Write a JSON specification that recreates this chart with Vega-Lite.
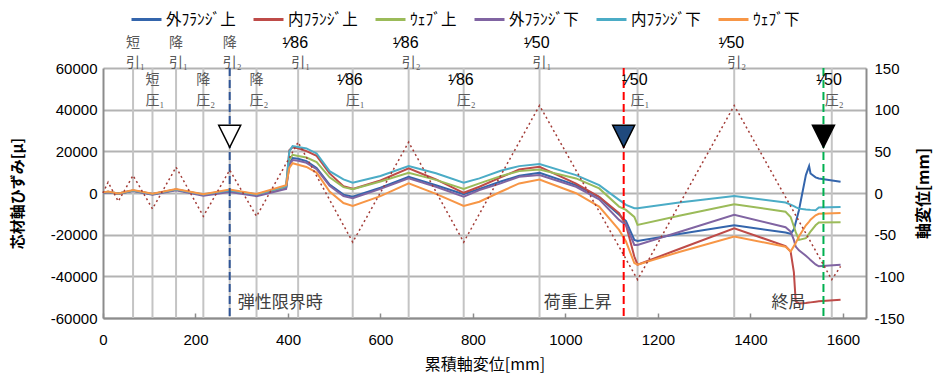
{
  "$schema": "https://vega.github.io/schema/vega-lite/v6.json",
  "width": 763,
  "height": 250,
  "autosize": "none",
  "padding": {"left": 103, "top": 68, "right": 81, "bottom": 56},
  "config": {
    "font": "Noto Sans CJK JP",
    "view": {"stroke": null},
    "axis": {
      "labelFont": "Liberation Sans",
      "labelFontSize": 15,
      "labelColor": "#000000",
      "titleFont": "Noto Sans CJK JP",
      "titleFontSize": 15,
      "titleColor": "#000000",
      "domainColor": "#8C8C8C",
      "domainWidth": 2,
      "ticks": false,
      "grid": false
    }
  },
  "datasets": {
    "strain": [
      {"x": 0, "外ﾌﾗﾝｼﾞ上": 100, "内ﾌﾗﾝｼﾞ上": 200, "ｳｪﾌﾞ上": 100, "外ﾌﾗﾝｼﾞ下": 0, "内ﾌﾗﾝｼﾞ下": 200, "ｳｪﾌﾞ下": 300},
      {"x": 11, "外ﾌﾗﾝｼﾞ上": 500, "内ﾌﾗﾝｼﾞ上": 600, "ｳｪﾌﾞ上": 500, "外ﾌﾗﾝｼﾞ下": 400, "内ﾌﾗﾝｼﾞ下": 600, "ｳｪﾌﾞ下": 700},
      {"x": 33, "外ﾌﾗﾝｼﾞ上": -300, "内ﾌﾗﾝｼﾞ上": -200, "ｳｪﾌﾞ上": -300, "外ﾌﾗﾝｼﾞ下": -400, "内ﾌﾗﾝｼﾞ下": -200, "ｳｪﾌﾞ下": -200},
      {"x": 65, "外ﾌﾗﾝｼﾞ上": 1100, "内ﾌﾗﾝｼﾞ上": 1200, "ｳｪﾌﾞ上": 1100, "外ﾌﾗﾝｼﾞ下": 900, "内ﾌﾗﾝｼﾞ下": 1200, "ｳｪﾌﾞ下": 1400},
      {"x": 107, "外ﾌﾗﾝｼﾞ上": -600, "内ﾌﾗﾝｼﾞ上": -500, "ｳｪﾌﾞ上": -600, "外ﾌﾗﾝｼﾞ下": -800, "内ﾌﾗﾝｼﾞ下": -500, "ｳｪﾌﾞ下": -400},
      {"x": 158, "外ﾌﾗﾝｼﾞ上": 1600, "内ﾌﾗﾝｼﾞ上": 1700, "ｳｪﾌﾞ上": 1600, "外ﾌﾗﾝｼﾞ下": 1300, "内ﾌﾗﾝｼﾞ下": 1700, "ｳｪﾌﾞ下": 1900},
      {"x": 217, "外ﾌﾗﾝｼﾞ上": -900, "内ﾌﾗﾝｼﾞ上": -800, "ｳｪﾌﾞ上": -900, "外ﾌﾗﾝｼﾞ下": -1300, "内ﾌﾗﾝｼﾞ下": -700, "ｳｪﾌﾞ下": -600},
      {"x": 274, "外ﾌﾗﾝｼﾞ上": 1000, "内ﾌﾗﾝｼﾞ上": 1200, "ｳｪﾌﾞ上": 1100, "外ﾌﾗﾝｼﾞ下": 500, "内ﾌﾗﾝｼﾞ下": 1300, "ｳｪﾌﾞ下": 1700},
      {"x": 332, "外ﾌﾗﾝｼﾞ上": -1000, "内ﾌﾗﾝｼﾞ上": -800, "ｳｪﾌﾞ上": -900, "外ﾌﾗﾝｼﾞ下": -1500, "内ﾌﾗﾝｼﾞ下": -700, "ｳｪﾌﾞ下": -500},
      {"x": 396, "外ﾌﾗﾝｼﾞ上": 2600, "内ﾌﾗﾝｼﾞ上": 3000, "ｳｪﾌﾞ上": 2800, "外ﾌﾗﾝｼﾞ下": 2000, "内ﾌﾗﾝｼﾞ下": 3200, "ｳｪﾌﾞ下": 3700},
      {"x": 403, "外ﾌﾗﾝｼﾞ上": 14000, "内ﾌﾗﾝｼﾞ上": 20500, "ｳｪﾌﾞ上": 16000, "外ﾌﾗﾝｼﾞ下": 13500, "内ﾌﾗﾝｼﾞ下": 20000, "ｳｪﾌﾞ下": 12000},
      {"x": 410, "外ﾌﾗﾝｼﾞ上": 16800, "内ﾌﾗﾝｼﾞ上": 22000, "ｳｪﾌﾞ上": 18300, "外ﾌﾗﾝｼﾞ下": 15800, "内ﾌﾗﾝｼﾞ下": 22500, "ｳｪﾌﾞ下": 14300},
      {"x": 422, "外ﾌﾗﾝｼﾞ上": 16400, "内ﾌﾗﾝｼﾞ上": 21500, "ｳｪﾌﾞ上": 17800, "外ﾌﾗﾝｼﾞ下": 15500, "内ﾌﾗﾝｼﾞ下": 22100, "ｳｪﾌﾞ下": 13600},
      {"x": 440, "外ﾌﾗﾝｼﾞ上": 15300, "内ﾌﾗﾝｼﾞ上": 20100, "ｳｪﾌﾞ上": 17000, "外ﾌﾗﾝｼﾞ下": 14500, "内ﾌﾗﾝｼﾞ下": 21400, "ｳｪﾌﾞ下": 12500},
      {"x": 462, "外ﾌﾗﾝｼﾞ上": 12000, "内ﾌﾗﾝｼﾞ上": 17800, "ｳｪﾌﾞ上": 14800, "外ﾌﾗﾝｼﾞ下": 11400, "内ﾌﾗﾝｼﾞ下": 19000, "ｳｪﾌﾞ下": 9800},
      {"x": 490, "外ﾌﾗﾝｼﾞ上": 4000, "内ﾌﾗﾝｼﾞ上": 9400, "ｳｪﾌﾞ上": 7500, "外ﾌﾗﾝｼﾞ下": 3500, "内ﾌﾗﾝｼﾞ下": 10500, "ｳｪﾌﾞ下": 700},
      {"x": 520, "外ﾌﾗﾝｼﾞ上": -800, "内ﾌﾗﾝｼﾞ上": 3300, "ｳｪﾌﾞ上": 2800, "外ﾌﾗﾝｼﾞ下": -1500, "内ﾌﾗﾝｼﾞ下": 6500, "ｳｪﾌﾞ下": -4800},
      {"x": 540, "外ﾌﾗﾝｼﾞ上": -1800, "内ﾌﾗﾝｼﾞ上": 2000, "ｳｪﾌﾞ上": 1800, "外ﾌﾗﾝｼﾞ下": -2500, "内ﾌﾗﾝｼﾞ下": 4900, "ｳｪﾌﾞ下": -6200},
      {"x": 600, "外ﾌﾗﾝｼﾞ上": 2500, "内ﾌﾗﾝｼﾞ上": 6000, "ｳｪﾌﾞ上": 5500, "外ﾌﾗﾝｼﾞ下": 2000, "内ﾌﾗﾝｼﾞ下": 8200, "ｳｪﾌﾞ下": -1500},
      {"x": 661, "外ﾌﾗﾝｼﾞ上": 7800, "内ﾌﾗﾝｼﾞ上": 11800, "ｳｪﾌﾞ上": 9700, "外ﾌﾗﾝｼﾞ下": 7000, "内ﾌﾗﾝｼﾞ下": 12900, "ｳｪﾌﾞ下": 4600},
      {"x": 720, "外ﾌﾗﾝｼﾞ上": 3700, "内ﾌﾗﾝｼﾞ上": 6500, "ｳｪﾌﾞ上": 6300, "外ﾌﾗﾝｼﾞ下": 3000, "内ﾌﾗﾝｼﾞ下": 9500, "ｳｪﾌﾞ下": -400},
      {"x": 780, "外ﾌﾗﾝｼﾞ上": -600, "内ﾌﾗﾝｼﾞ上": 100, "ｳｪﾌﾞ上": 2000, "外ﾌﾗﾝｼﾞ下": -1800, "内ﾌﾗﾝｼﾞ下": 4900, "ｳｪﾌﾞ下": -6200},
      {"x": 814, "外ﾌﾗﾝｼﾞ上": 2000, "内ﾌﾗﾝｼﾞ上": 3000, "ｳｪﾌﾞ上": 4600, "外ﾌﾗﾝｼﾞ下": 1400, "内ﾌﾗﾝｼﾞ下": 7000, "ｳｪﾌﾞ下": -4200},
      {"x": 860, "外ﾌﾗﾝｼﾞ上": 5500, "内ﾌﾗﾝｼﾞ上": 7500, "ｳｪﾌﾞ上": 8100, "外ﾌﾗﾝｼﾞ下": 4600, "内ﾌﾗﾝｼﾞ下": 10700, "ｳｪﾌﾞ下": 600},
      {"x": 900, "外ﾌﾗﾝｼﾞ上": 8300, "内ﾌﾗﾝｼﾞ上": 11300, "ｳｪﾌﾞ上": 10500, "外ﾌﾗﾝｼﾞ下": 7800, "内ﾌﾗﾝｼﾞ下": 12900, "ｳｪﾌﾞ下": 4600},
      {"x": 944, "外ﾌﾗﾝｼﾞ上": 9700, "内ﾌﾗﾝｼﾞ上": 12600, "ｳｪﾌﾞ上": 11300, "外ﾌﾗﾝｼﾞ下": 8600, "内ﾌﾗﾝｼﾞ下": 13900, "ｳｪﾌﾞ下": 6500},
      {"x": 1023, "外ﾌﾗﾝｼﾞ上": 3800, "内ﾌﾗﾝｼﾞ上": 4500, "ｳｪﾌﾞ上": 7000, "外ﾌﾗﾝｼﾞ下": 3000, "内ﾌﾗﾝｼﾞ下": 8600, "ｳｪﾌﾞ下": -100},
      {"x": 1073, "外ﾌﾗﾝｼﾞ上": -2000, "内ﾌﾗﾝｼﾞ上": -1800, "ｳｪﾌﾞ上": 2200, "外ﾌﾗﾝｼﾞ下": -3000, "内ﾌﾗﾝｼﾞ下": 3800, "ｳｪﾌﾞ下": -6500},
      {"x": 1116, "外ﾌﾗﾝｼﾞ上": -10500, "内ﾌﾗﾝｼﾞ上": -9700, "ｳｪﾌﾞ上": -6500, "外ﾌﾗﾝｼﾞ下": -12900, "内ﾌﾗﾝｼﾞ下": -3300, "ｳｪﾌﾞ下": -17700},
      {"x": 1131, "外ﾌﾗﾝｼﾞ上": -13500, "内ﾌﾗﾝｼﾞ上": -15300, "ｳｪﾌﾞ上": -8100, "外ﾌﾗﾝｼﾞ下": -15300, "内ﾌﾗﾝｼﾞ下": -5700, "ｳｪﾌﾞ下": -23300},
      {"x": 1149, "外ﾌﾗﾝｼﾞ上": -22500, "内ﾌﾗﾝｼﾞ上": -30500, "ｳｪﾌﾞ上": -11500, "外ﾌﾗﾝｼﾞ下": -24900, "内ﾌﾗﾝｼﾞ下": -7300, "ｳｪﾌﾞ下": -33600},
      {"x": 1156, "外ﾌﾗﾝｼﾞ上": -23000, "内ﾌﾗﾝｼﾞ上": -34400, "ｳｪﾌﾞ上": -15300, "外ﾌﾗﾝｼﾞ下": -24900, "内ﾌﾗﾝｼﾞ下": -7300, "ｳｪﾌﾞ下": -34400},
      {"x": 1246, "外ﾌﾗﾝｼﾞ上": -19700, "内ﾌﾗﾝｼﾞ上": -26900, "ｳｪﾌﾞ上": -10900, "外ﾌﾗﾝｼﾞ下": -18700, "内ﾌﾗﾝｼﾞ下": -4600, "ｳｪﾌﾞ下": -28300},
      {"x": 1365, "外ﾌﾗﾝｼﾞ上": -15500, "内ﾌﾗﾝｼﾞ上": -16900, "ｳｪﾌﾞ上": -5400, "外ﾌﾗﾝｼﾞ下": -10500, "内ﾌﾗﾝｼﾞ下": -1400, "ｳｪﾌﾞ下": -20900},
      {"x": 1476, "外ﾌﾗﾝｼﾞ上": -19000, "内ﾌﾗﾝｼﾞ上": -25500, "ｳｪﾌﾞ上": -9000, "外ﾌﾗﾝｼﾞ下": -16400, "内ﾌﾗﾝｼﾞ下": -4600, "ｳｪﾌﾞ下": -25800},
      {"x": 1487, "外ﾌﾗﾝｼﾞ上": -19600, "内ﾌﾗﾝｼﾞ上": -28100, "ｳｪﾌﾞ上": -11500, "外ﾌﾗﾝｼﾞ下": -18500, "内ﾌﾗﾝｼﾞ下": -5600, "ｳｪﾌﾞ下": -28100},
      {"x": 1494, "外ﾌﾗﾝｼﾞ上": -17500, "内ﾌﾗﾝｼﾞ上": -38000, "ｳｪﾌﾞ上": -16100, "外ﾌﾗﾝｼﾞ下": -22500, "内ﾌﾗﾝｼﾞ下": -6300, "ｳｪﾌﾞ下": -25500},
      {"x": 1498, "外ﾌﾗﾝｼﾞ上": -14200, "内ﾌﾗﾝｼﾞ上": -52000, "ｳｪﾌﾞ上": -18800, "外ﾌﾗﾝｼﾞ下": -25700, "内ﾌﾗﾝｼﾞ下": -6800, "ｳｪﾌﾞ下": -24000},
      {"x": 1505, "外ﾌﾗﾝｼﾞ上": -8300, "内ﾌﾗﾝｼﾞ上": -53000, "ｳｪﾌﾞ上": -22500, "外ﾌﾗﾝｼﾞ下": -27500, "内ﾌﾗﾝｼﾞ下": -7500, "ｳｪﾌﾞ下": -20900},
      {"x": 1520, "外ﾌﾗﾝｼﾞ上": 8600, "内ﾌﾗﾝｼﾞ上": -52800, "ｳｪﾌﾞ上": -21700, "外ﾌﾗﾝｼﾞ下": -30100, "内ﾌﾗﾝｼﾞ下": -7900, "ｳｪﾌﾞ下": -15500},
      {"x": 1527, "外ﾌﾗﾝｼﾞ上": 12900, "内ﾌﾗﾝｼﾞ上": -52600, "ｳｪﾌﾞ上": -19500, "外ﾌﾗﾝｼﾞ下": -31500, "内ﾌﾗﾝｼﾞ下": -8000, "ｳｪﾌﾞ下": -13700},
      {"x": 1530, "外ﾌﾗﾝｼﾞ上": 9400, "内ﾌﾗﾝｼﾞ上": -52500, "ｳｪﾌﾞ上": -18500, "外ﾌﾗﾝｼﾞ下": -32200, "内ﾌﾗﾝｼﾞ下": -8100, "ｳｪﾌﾞ下": -12800},
      {"x": 1541, "外ﾌﾗﾝｼﾞ上": 7500, "内ﾌﾗﾝｼﾞ上": -52200, "ｳｪﾌﾞ上": -15500, "外ﾌﾗﾝｼﾞ下": -34300, "内ﾌﾗﾝｼﾞ下": -8300, "ｳｪﾌﾞ下": -10700},
      {"x": 1548, "外ﾌﾗﾝｼﾞ上": 7000, "内ﾌﾗﾝｼﾞ上": -52000, "ｳｪﾌﾞ上": -14200, "外ﾌﾗﾝｼﾞ下": -35200, "内ﾌﾗﾝｼﾞ下": -7000, "ｳｪﾌﾞ下": -10000},
      {"x": 1595, "外ﾌﾗﾝｼﾞ上": 5400, "内ﾌﾗﾝｼﾞ上": -51200, "ｳｪﾌﾞ上": -14000, "外ﾌﾗﾝｼﾞ下": -34400, "内ﾌﾗﾝｼﾞ下": -6700, "ｳｪﾌﾞ下": -9600}
    ],
    "disp": [
      {"x": 0, "d": 0}, {"x": 11, "d": 13}, {"x": 33, "d": -10}, {"x": 65, "d": 21},
      {"x": 107, "d": -19}, {"x": 158, "d": 31}, {"x": 217, "d": -28}, {"x": 274, "d": 27.5},
      {"x": 332, "d": -28}, {"x": 422, "d": 61}, {"x": 540, "d": -59}, {"x": 661, "d": 61},
      {"x": 780, "d": -59}, {"x": 944, "d": 105}, {"x": 1156, "d": -104}, {"x": 1365, "d": 105},
      {"x": 1576, "d": -104}, {"x": 1595, "d": -88}
    ],
    "cycles": [
      {"x": 65, "row": 1, "top": "短", "bot": "引₁"},
      {"x": 107, "row": 2, "top": "短", "bot": "圧₁"},
      {"x": 158, "row": 1, "top": "降", "bot": "引₁"},
      {"x": 217, "row": 2, "top": "降", "bot": "圧₂"},
      {"x": 274, "row": 1, "top": "降", "bot": "引₂"},
      {"x": 332, "row": 2, "top": "降", "bot": "圧₂"},
      {"x": 422, "row": 1, "top": "¹⁄86", "bot": "引₁"},
      {"x": 540, "row": 2, "top": "¹⁄86", "bot": "圧₁"},
      {"x": 661, "row": 1, "top": "¹⁄86", "bot": "引₂"},
      {"x": 780, "row": 2, "top": "¹⁄86", "bot": "圧₂"},
      {"x": 944, "row": 1, "top": "¹⁄50", "bot": "引₁"},
      {"x": 1156, "row": 2, "top": "¹⁄50", "bot": "圧₁"},
      {"x": 1365, "row": 1, "top": "¹⁄50", "bot": "引₂"},
      {"x": 1576, "row": 2, "top": "¹⁄50", "bot": "圧₂"}
    ],
    "events": [
      {"x": 274, "event": "弾性限界時"},
      {"x": 1126, "event": "荷重上昇"},
      {"x": 1558, "event": "終局"}
    ]
  },
  "layer": [
    {
      "layer": [
        {
          "data": {"name": "cycles"},
          "mark": {"type": "rule", "color": "#C4C4C4", "strokeWidth": 2},
          "encoding": {
            "x": {
              "field": "x", "type": "quantitative",
              "scale": {"domain": [0, 1650], "nice": false, "zero": false},
              "axis": {
                "values": [0, 200, 400, 600, 800, 1000, 1200, 1400, 1600],
                "labelExpr": "toString(datum.value)",
                "title": "累積軸変位[mm]",
                "titleFontWeight": "normal", "titleFontSize": 16,
                "ticks": true, "tickSize": -5, "tickColor": "#8C8C8C", "tickWidth": 1.5,
                "labelPadding": 19, "titlePadding": 9, "labelFlush": false
              }
            }
          }
        },
        {
          "data": {"name": "strain"},
          "transform": [{"fold": ["外ﾌﾗﾝｼﾞ上", "内ﾌﾗﾝｼﾞ上", "ｳｪﾌﾞ上", "外ﾌﾗﾝｼﾞ下", "内ﾌﾗﾝｼﾞ下", "ｳｪﾌﾞ下"], "as": ["series", "v"]}],
          "mark": {"type": "line", "strokeWidth": 2},
          "encoding": {
            "x": {"field": "x", "type": "quantitative"},
            "y": {
              "field": "v", "type": "quantitative",
              "scale": {"domain": [-60000, 60000], "nice": false},
              "axis": {
                "values": [-60000, -40000, -20000, 0, 20000, 40000, 60000],
                "grid": true, "gridColor": "#B3B3B3", "gridWidth": 2,
                "labelExpr": "toString(datum.value)",
                "labelPadding": 6,
                "title": "芯材軸ひずみ[μ]", "titleFontWeight": "bold", "titlePadding": 25
              }
            },
            "color": {
              "field": "series", "type": "nominal",
              "scale": {
                "domain": ["外ﾌﾗﾝｼﾞ上", "内ﾌﾗﾝｼﾞ上", "ｳｪﾌﾞ上", "外ﾌﾗﾝｼﾞ下", "内ﾌﾗﾝｼﾞ下", "ｳｪﾌﾞ下"],
                "range": ["#3465AC", "#BE4B48", "#9BBB59", "#8064A2", "#4BACC6", "#F79646"]
              },
              "legend": {
                "orient": "none", "legendX": 27, "legendY": -65, "direction": "horizontal",
                "title": null, "padding": 0,
                "labelFont": "Noto Sans CJK JP", "labelFontSize": 15.5, "labelColor": "#000000",
                "symbolType": "stroke", "symbolSize": 900, "symbolStrokeWidth": 3,
                "labelOffset": 3, "columnPadding": 11
              }
            }
          }
        },
        {
          "data": {"name": "events"},
          "mark": {"type": "rule", "strokeWidth": 2, "strokeDash": [8, 4]},
          "encoding": {
            "x": {"field": "x", "type": "quantitative"},
            "stroke": {
              "field": "event", "type": "nominal",
              "scale": {"domain": ["弾性限界時", "荷重上昇", "終局"], "range": ["#2F5597", "#FF0000", "#00B050"]},
              "legend": null
            }
          }
        },
        {
          "data": {"name": "events"},
          "mark": {"type": "point", "shape": "M-1,-1L1,-1L0,1Z", "size": 484, "filled": true, "stroke": "#000000", "strokeWidth": 1.5, "opacity": 1},
          "encoding": {
            "x": {"field": "x", "type": "quantitative"},
            "y": {"datum": 27200, "type": "quantitative", "scale": {"domain": [-60000, 60000], "nice": false}},
            "fill": {
              "field": "event", "type": "nominal",
              "scale": {"domain": ["弾性限界時", "荷重上昇", "終局"], "range": ["#FFFFFF", "#1F497D", "#000000"]},
              "legend": null
            }
          }
        },
        {
          "data": {"name": "events"},
          "transform": [{"filter": "datum.event == '弾性限界時'"}],
          "mark": {"type": "text", "align": "left", "baseline": "middle", "dx": 8, "fontSize": 17, "color": "#404040"},
          "encoding": {
            "x": {"field": "x", "type": "quantitative"},
            "y": {"datum": -52600, "type": "quantitative", "scale": {"domain": [-60000, 60000], "nice": false}},
            "text": {"field": "event"}
          }
        },
        {
          "data": {"name": "events"},
          "transform": [{"filter": "datum.event == '荷重上昇'"}],
          "mark": {"type": "text", "align": "right", "baseline": "middle", "dx": -12, "fontSize": 17, "color": "#404040"},
          "encoding": {
            "x": {"field": "x", "type": "quantitative"},
            "y": {"datum": -52600, "type": "quantitative", "scale": {"domain": [-60000, 60000], "nice": false}},
            "text": {"field": "event"}
          }
        },
        {
          "data": {"name": "events"},
          "transform": [{"filter": "datum.event == '終局'"}],
          "mark": {"type": "text", "align": "right", "baseline": "middle", "dx": -18, "fontSize": 17, "color": "#404040"},
          "encoding": {
            "x": {"field": "x", "type": "quantitative"},
            "y": {"datum": -52600, "type": "quantitative", "scale": {"domain": [-60000, 60000], "nice": false}},
            "text": {"field": "event"}
          }
        },
        {
          "data": {"name": "cycles"},
          "transform": [{"filter": "datum.row == 1 && length(datum.top) == 1"}],
          "mark": {"type": "text", "align": "center", "baseline": "middle", "fontSize": 14, "color": "#595959"},
          "encoding": {
            "x": {"field": "x", "type": "quantitative"},
            "y": {"datum": 72000, "type": "quantitative", "scale": {"domain": [-60000, 60000], "nice": false}},
            "text": {"field": "top"}
          }
        },
        {
          "data": {"name": "cycles"},
          "transform": [{"filter": "datum.row == 1 && length(datum.top) > 1"}],
          "mark": {"type": "text", "align": "right", "baseline": "middle", "dx": 10, "fontSize": 16, "font": "Liberation Sans", "color": "#000000"},
          "encoding": {
            "x": {"field": "x", "type": "quantitative"},
            "y": {"datum": 72000, "type": "quantitative", "scale": {"domain": [-60000, 60000], "nice": false}},
            "text": {"field": "top"}
          }
        },
        {
          "data": {"name": "cycles"},
          "transform": [{"filter": "datum.row == 1"}],
          "mark": {"type": "text", "align": "left", "baseline": "middle", "dx": -7, "fontSize": 14, "color": "#595959"},
          "encoding": {
            "x": {"field": "x", "type": "quantitative"},
            "y": {"datum": 62200, "type": "quantitative", "scale": {"domain": [-60000, 60000], "nice": false}},
            "text": {"field": "bot"}
          }
        },
        {
          "data": {"name": "cycles"},
          "transform": [{"filter": "datum.row == 2 && length(datum.top) == 1"}],
          "mark": {"type": "text", "align": "center", "baseline": "middle", "fontSize": 14, "color": "#595959"},
          "encoding": {
            "x": {"field": "x", "type": "quantitative"},
            "y": {"datum": 54400, "type": "quantitative", "scale": {"domain": [-60000, 60000], "nice": false}},
            "text": {"field": "top"}
          }
        },
        {
          "data": {"name": "cycles"},
          "transform": [{"filter": "datum.row == 2 && length(datum.top) > 1"}],
          "mark": {"type": "text", "align": "right", "baseline": "middle", "dx": 10, "fontSize": 16, "font": "Liberation Sans", "color": "#000000"},
          "encoding": {
            "x": {"field": "x", "type": "quantitative"},
            "y": {"datum": 54400, "type": "quantitative", "scale": {"domain": [-60000, 60000], "nice": false}},
            "text": {"field": "top"}
          }
        },
        {
          "data": {"name": "cycles"},
          "transform": [{"filter": "datum.row == 2"}],
          "mark": {"type": "text", "align": "left", "baseline": "middle", "dx": -7, "fontSize": 14, "color": "#595959"},
          "encoding": {
            "x": {"field": "x", "type": "quantitative"},
            "y": {"datum": 44300, "type": "quantitative", "scale": {"domain": [-60000, 60000], "nice": false}},
            "text": {"field": "bot"}
          }
        }
      ]
    },
    {
      "data": {"name": "disp"},
      "mark": {"type": "line", "color": "#A23B36", "strokeWidth": 1.5, "strokeDash": [2, 3]},
      "encoding": {
        "x": {"field": "x", "type": "quantitative"},
        "y": {
          "field": "d", "type": "quantitative",
          "scale": {"domain": [-150, 150], "nice": false},
          "axis": {
            "orient": "right",
            "values": [-150, -100, -50, 0, 50, 100, 150],
            "labelExpr": "toString(datum.value)",
            "labelPadding": 8,
            "title": "軸変位[mm]", "titleFontWeight": "bold", "titleFontSize": 16,
            "titleAngle": 270, "titleBaseline": "top", "titlePadding": 11
          }
        }
      }
    }
  ],
  "resolve": {"scale": {"y": "independent"}}
}
